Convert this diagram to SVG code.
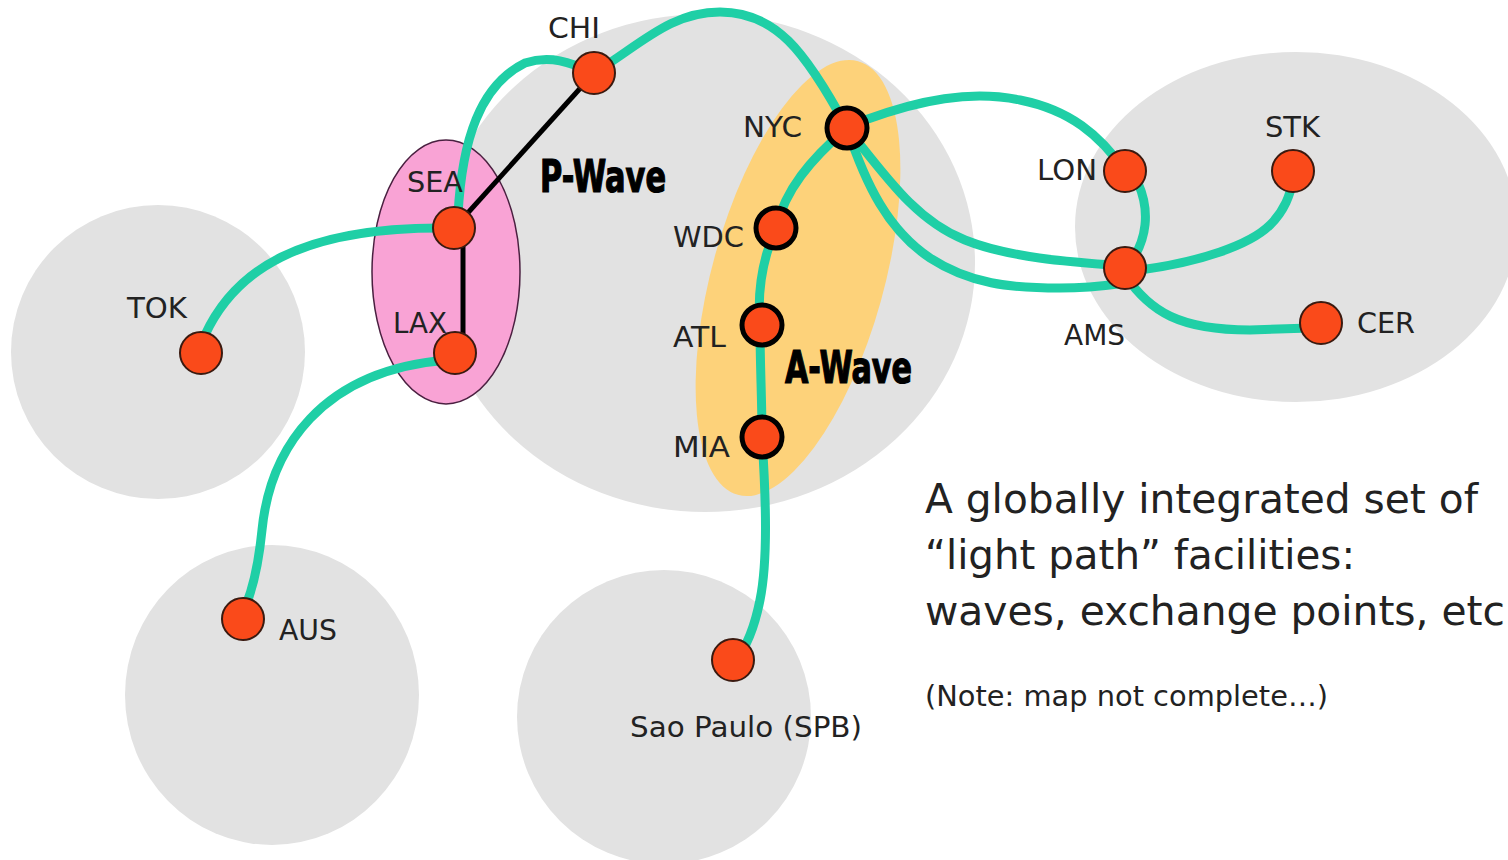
<svg xmlns="http://www.w3.org/2000/svg" width="1508" height="860" viewBox="0 0 1508 860">
<style>
.region{fill:#e2e2e2}
.teal{fill:none;stroke:#1fcfa6;stroke-width:9;stroke-linecap:round}
.pw{fill:none;stroke:#000;stroke-width:5}
.node{fill:#fa4a1a;stroke:#3a1a10;stroke-width:2}
.anode{fill:#fa4a1a;stroke:#000;stroke-width:5}
.lbl{font-family:"DejaVu Sans","Liberation Sans",sans-serif;font-size:27.5px;fill:#222}
.wave{font-family:"Liberation Sans Narrow","DejaVu Sans Condensed","Liberation Sans",sans-serif;font-weight:bold;font-size:44px;fill:#000;stroke:#000;stroke-width:1.2}
.big{font-family:"DejaVu Sans","Liberation Sans",sans-serif;font-size:40px;fill:#222}
</style>
<rect width="1508" height="860" fill="#fff"/>
<g id="regions">
<ellipse class="region" cx="158" cy="352" rx="147" ry="147"/>
<ellipse class="region" cx="272" cy="695" rx="147" ry="150"/>
<ellipse class="region" cx="705" cy="263" rx="270" ry="249"/>
<ellipse class="region" cx="664" cy="717" rx="147" ry="147"/>
<ellipse class="region" cx="1296" cy="227" rx="221" ry="175"/>
<ellipse id="pwave-area" cx="446" cy="272" rx="74" ry="132" fill="#f9a3d5" stroke="#4a2040" stroke-width="1.5"/>
<ellipse id="awave-area" cx="798" cy="278" rx="86" ry="225" fill="#fdd27a" transform="rotate(15.5 798 278)"/>
</g>
<g id="connectors">
<path class="teal" d="M205 335 C235 270 300 228 440 228"/>
<path class="teal" d="M448 360 C320 370 270 450 262 530 C258 570 252 590 246 605"/>
<path class="teal" d="M458 215 C462 140 480 85 525 63 C550 55 570 62 594 73 C640 45 670 12 720 12 C775 12 805 50 847 128"/>
<path class="teal" d="M847 128 C885 175 915 220 965 240 C1010 258 1070 262 1125 266"/>
<path class="teal" d="M847 128 C866 185 888 230 930 258 C970 284 1010 288 1060 288 C1090 288 1110 285 1125 283"/>
<path class="teal" d="M1125 275 C1150 312 1180 330 1250 330 L1310 328"/>
<path class="teal" d="M865 120 C920 100 970 90 1020 100 C1070 110 1100 135 1125 171"/>
<path class="teal" d="M1138 183 C1150 210 1148 240 1128 266"/>
<path class="teal" d="M1140 270 C1200 262 1250 245 1270 225 C1285 210 1290 195 1293 180"/>
<path class="teal" d="M847 128 C810 160 785 190 776 228 C762 260 757 290 760 325 C760 365 762 400 762 437 C766 500 768 560 760 600 C755 625 748 645 736 660"/>
<path class="pw" d="M456 226 L594 73"/>
<path class="pw" d="M463 228 L463 353"/>
</g>
<g id="node-CHI"><circle class="node" cx="594" cy="73" r="21"/><text class="lbl" x="548" y="38" textLength="52" lengthAdjust="spacingAndGlyphs">CHI</text></g>
<g id="node-SEA"><circle class="node" cx="454" cy="228" r="21"/><text class="lbl" x="407" y="192" textLength="56" lengthAdjust="spacingAndGlyphs">SEA</text></g>
<g id="node-LAX"><circle class="node" cx="455" cy="353" r="21"/><text class="lbl" x="393" y="333" textLength="54" lengthAdjust="spacingAndGlyphs">LAX</text></g>
<g id="node-TOK"><circle class="node" cx="201" cy="353" r="21"/><text class="lbl" x="127" y="318" textLength="60" lengthAdjust="spacingAndGlyphs">TOK</text></g>
<g id="node-AUS"><circle class="node" cx="243" cy="619" r="21"/><text class="lbl" x="279" y="640" textLength="58" lengthAdjust="spacingAndGlyphs">AUS</text></g>
<g id="node-SPB"><circle class="node" cx="733" cy="660" r="21"/><text class="lbl" x="630" y="737" textLength="232" lengthAdjust="spacingAndGlyphs">Sao Paulo (SPB)</text></g>
<g id="node-NYC"><circle class="anode" cx="847" cy="128" r="20"/><text class="lbl" x="743" y="137" textLength="59" lengthAdjust="spacingAndGlyphs">NYC</text></g>
<g id="node-WDC"><circle class="anode" cx="776" cy="228" r="20"/><text class="lbl" x="673" y="247" textLength="71" lengthAdjust="spacingAndGlyphs">WDC</text></g>
<g id="node-ATL"><circle class="anode" cx="762" cy="325" r="20"/><text class="lbl" x="673" y="347" textLength="53" lengthAdjust="spacingAndGlyphs">ATL</text></g>
<g id="node-MIA"><circle class="anode" cx="762" cy="437" r="20"/><text class="lbl" x="673" y="457" textLength="57" lengthAdjust="spacingAndGlyphs">MIA</text></g>
<g id="node-LON"><circle class="node" cx="1125" cy="171" r="21"/><text class="lbl" x="1037" y="180" textLength="60" lengthAdjust="spacingAndGlyphs">LON</text></g>
<g id="node-STK"><circle class="node" cx="1293" cy="171" r="21"/><text class="lbl" x="1265" y="137" textLength="55" lengthAdjust="spacingAndGlyphs">STK</text></g>
<g id="node-AMS"><circle class="node" cx="1125" cy="268" r="21"/><text class="lbl" x="1064" y="345" textLength="61" lengthAdjust="spacingAndGlyphs">AMS</text></g>
<g id="node-CER"><circle class="node" cx="1321" cy="323" r="21"/><text class="lbl" x="1357" y="333" textLength="58" lengthAdjust="spacingAndGlyphs">CER</text></g>
<g id="labels">
<text class="wave" x="540" y="192" textLength="126" lengthAdjust="spacingAndGlyphs">P-Wave</text>
<text class="wave" x="785" y="383" textLength="127" lengthAdjust="spacingAndGlyphs">A-Wave</text>
<text class="big" x="925" y="513" textLength="553" lengthAdjust="spacingAndGlyphs">A globally integrated set of</text>
<text class="big" x="925" y="569" textLength="430" lengthAdjust="spacingAndGlyphs">“light path” facilities:</text>
<text class="big" x="925" y="625" textLength="580" lengthAdjust="spacingAndGlyphs">waves, exchange points, etc</text>
<text class="lbl" x="925" y="706" textLength="403" lengthAdjust="spacingAndGlyphs">(Note: map not complete…)</text>
</g>
</svg>
